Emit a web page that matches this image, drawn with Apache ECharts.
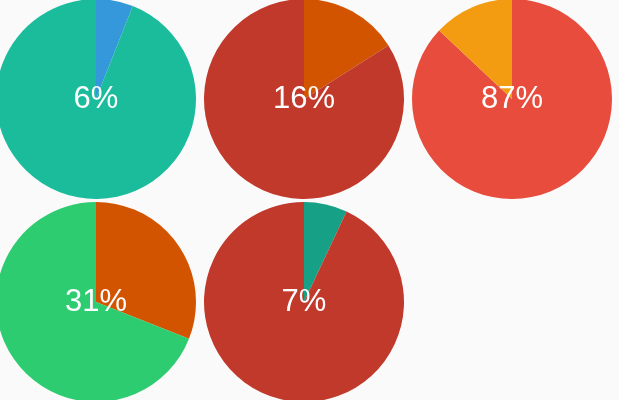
<!DOCTYPE html>
<html>
<head>
<meta charset="utf-8">
<script src="https://cdn.jsdelivr.net/npm/echarts@6/dist/echarts.min.js"></script>
<style>
html,body{margin:0;padding:0;background:#fafafa;}
#chart{width:619px;height:400px;}
</style>
</head>
<body>
<div id="chart"></div>
<script>
var percents = [6, 16, 87, 31, 7];
var valueColors = ['#3498db', '#d35400', '#e74c3c', '#d35400', '#16a085'];
var restColors = ['#1abc9c', '#c0392b', '#f39c12', '#2ecc71', '#c0392b'];

var chart = echarts.init(document.getElementById('chart'));
var colX = [96, 304, 512];
var rowY = [99, 302];
var series = percents.map(function (p, i) {
  return {
    type: 'pie',
    center: [colX[i % 3], rowY[Math.floor(i / 3)]],
    radius: [0, 100],
    startAngle: 90,
    clockwise: true,
    silent: true,
    animation: false,
    labelLine: { show: false },
    itemStyle: { borderWidth: 0 },
    label: { show: false },
    data: [
      {
        value: p,
        itemStyle: { color: valueColors[i] },
        label: {
          show: true,
          position: 'center',
          formatter: p + '%',
          color: '#ffffff',
          fontSize: 31,
          fontFamily: 'Liberation Sans, Arial, sans-serif',
          fontWeight: 'normal'
        }
      },
      { value: 100 - p, itemStyle: { color: restColors[i] } }
    ]
  };
});
chart.setOption({
  backgroundColor: '#fafafa',
  animation: false,
  series: series
});
</script>
</body>
</html>
